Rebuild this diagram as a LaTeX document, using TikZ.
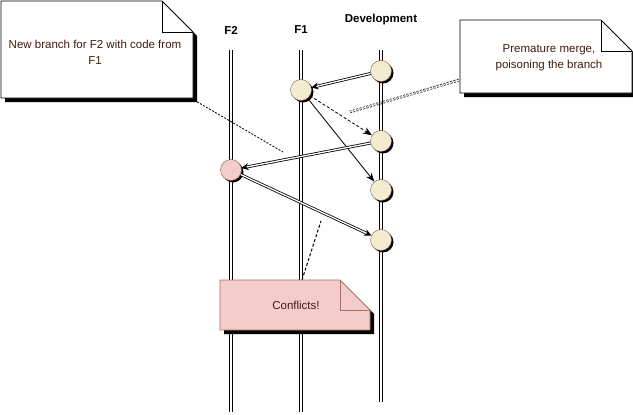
\documentclass[tikz,border=0pt]{standalone}
\usepackage{fontspec}
\setmainfont{Liberation Sans}
\usetikzlibrary{arrows.meta,shadows}
\definecolor{commitfill}{HTML}{F3ECD0}
\definecolor{commitdraw}{HTML}{8A5A48}
\definecolor{conflictfill}{HTML}{F5CCCC}
\definecolor{conflictdraw}{HTML}{A87262}
\definecolor{notetextcol}{HTML}{3E1C12}
\tikzset{%
  lifeline/.style  = {draw=black, line width=1pt, double=white, double distance=1.3pt},%
  branchname/.style= {font=\bfseries\fontsize{11.5}{13}\selectfont},%
  commit/.style    = {circle, draw=commitdraw, fill=commitfill, minimum size=21pt, inner sep=0pt,%
                      drop shadow={shadow xshift=2pt, shadow yshift=-2pt, fill=black, opacity=1}},%
  conflict/.style  = {commit, fill=conflictfill},%
  merge/.style     = {line width=0.8pt, double=white, double distance=1.3pt, -{Stealth[length=7pt,width=7pt]}},%
  pick/.style      = {line width=0.8pt, -{Stealth[length=9pt,width=7pt]}},%
  notetext/.style  = {align=center, text=notetextcol, font=\fontsize{11.5}{16}\selectfont},%
  noteline/.style  = {line width=0.8pt, dash pattern=on 2pt off 1.5pt}%
}
% note with a folded corner: left, top, right, bottom, fold, fill, border
\newcommand{\dognote}[7]{%
  \fill[black] (#1+4,#2+4) -- (#3-#5+4,#2+4) -- (#3+4,#2+#5+4) -- (#3+4,#4+4) -- (#1+4,#4+4) -- cycle;
  \filldraw[fill=#6, draw=#7, line width=0.8pt] (#1,#2) -- (#3-#5,#2) -- (#3,#2+#5) -- (#3,#4) -- (#1,#4) -- cycle;
  \draw[draw=#7, line width=0.8pt] (#3-#5,#2) -- (#3-#5,#2+#5) -- (#3,#2+#5);
}
\begin{document}
\begin{tikzpicture}[x=1pt,y=-1pt]
\useasboundingbox (0,0) rectangle (633,415);

% branches
\node[branchname] (lf2) at (231,30) {F2};
\node[branchname] (lf1) at (301,30) {F1};
\node[branchname] (ldev) at (381,20) {Development};
\coordinate (f2top) at (231,50);
\coordinate (f2bot) at (231,412);
\coordinate (f1top) at (301,50);
\coordinate (f1bot) at (301,412);
\coordinate (devtop) at (381,50);
\coordinate (devbot) at (381,402);
\draw[lifeline] (f2top) -- (f2bot);
\draw[lifeline] (f1top) -- (f1bot);
\draw[lifeline] (devtop) -- (devbot);

% commits
\node[commit] (d1) at (381,71) {};
\node[commit] (f1a) at (301,90) {};
\node[commit] (d2) at (381,141) {};
\node[conflict] (f2a) at (231,170) {};
\node[commit] (d3) at (381,190) {};
\node[commit] (d4) at (381,240) {};

% merges
\draw[merge] (d1) -- (f1a);
\draw[pick, densely dashed] (f1a) -- (d2);
\draw[pick] (f1a) -- (d3);
\draw[merge] (d2) -- (f2a);
\draw[merge] (f2a) -- (d4);

% notes
\dognote{1}{1}{193}{98}{31}{white}{black}
\node[notetext] (n1) at (95,52) {New branch for F2 with code from\\F1};
\coordinate (n1tip) at (194,100);
\coordinate (n1end) at (283,152);
\draw[noteline] (n1tip) -- (n1end);

\dognote{460}{20}{632}{93}{31}{white}{black}
\node[notetext] (n2) at (549,58) {Premature merge,\\poisoning the branch};
\coordinate (n2tip) at (459,80);
\coordinate (n2end) at (350,112);
\draw[noteline, double=white, double distance=1.2pt, line width=0.7pt] (n2tip) -- (n2end);

\coordinate (n3tip) at (302,280);
\coordinate (n3end) at (321,221);
\draw[noteline, dash pattern=on 3pt off 2pt, line width=1pt] (n3tip) -- (n3end);
\dognote{220}{280}{370}{330}{30}{conflictfill}{conflictdraw}
\node[notetext] (n3) at (296,305) {Conflicts!};
\end{tikzpicture}
\end{document}
